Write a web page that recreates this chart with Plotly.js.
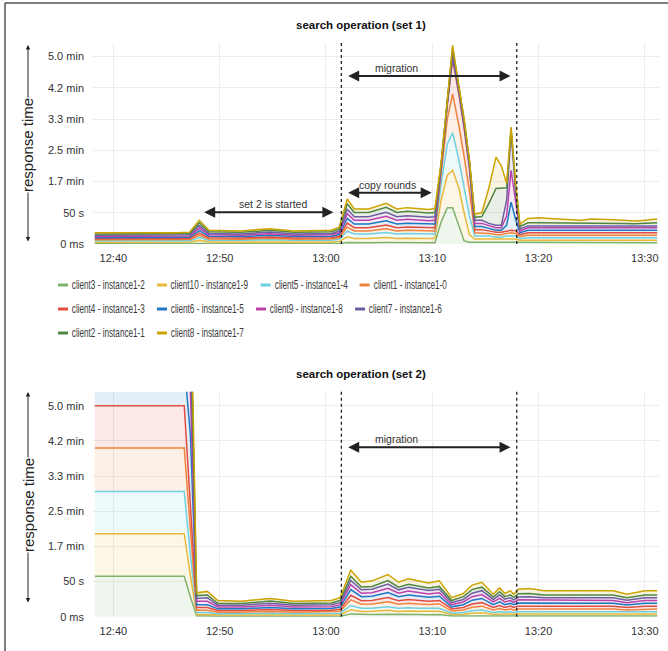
<!DOCTYPE html>
<html><head><meta charset="utf-8">
<script src="https://cdn.plot.ly/plotly-3.0.1.min.js"></script>
<style>html,body{margin:0;padding:0;background:#fff;}#chart{width:668px;height:651px;}</style>
</head><body><div id="chart"></div>
<script>
const DAY = '2021-01-01 ';
const seriesNames = ['client3 - instance1-2','client10 - instance1-9','client5 - instance1-4','client1 - instance1-0',
  'client4 - instance1-3','client6 - instance1-5','client9 - instance1-8','client7 - instance1-6',
  'client2 - instance1-1','client8 - instance1-7'];
const seriesColors = ['#7EB26D','#EAB839','#6ED0E0','#EF843C','#E24D42','#1F78C1','#BA43A9','#705DA0','#508642','#CCA300'];
const xTickLabels = ['12:40','12:50','13:00','13:10','13:20','13:30'];
const yTickValues = [0,50,100,150,200,250,300];
const yTickLabels = ['0 ms','50 s','1.7 min','2.5 min','3.3 min','4.2 min','5.0 min'];
const chartTitles = ['search operation (set 1)','search operation (set 2)'];

// ---- set 1 (seconds) ----
const times1 = ['12:38:15','12:42','12:46','12:47:10','12:48:05','12:49','12:52','12:54:45','12:57','13:00:30','13:01:15','13:02','13:02:40','13:04','13:05:40','13:06:40','13:07:40','13:09:40','13:10:15','13:10:50','13:11:25','13:11:55','13:12:30','13:13','13:13:30','13:14','13:14:40','13:15:20','13:16','13:16:30','13:17','13:17:25','13:17:50','13:18:15','13:19','13:20','13:21','13:22','13:23','13:24','13:25','13:26','13:27','13:28','13:29','13:30','13:31:10'];
const set1Client3  = [0.7,0.7,0.7,0.8,1.5,0.9,0.8,1.0,0.8,0.8,1.0,2.5,2,2,2.3,2,2.1,2,2, 35,58,58,30,5,3,3,3,3,3,3,3,3,3,2, 2,2,2,2,2,2,2,2,2,2,2,2,2];
const set1Client10 = [2.2,2.2,2.2,2.3,4.5,2.6,2.5,2.9,2.5,2.6,3.2,9,7,7,8,7,7.3,6.9,7, 35,52,60,60,45,12,5,5,5,4,4,5,5,5,4, 4,4,4,4,4,4,4,4,4,4,4,4,4];
const set1Client5  = [2.2,2.2,2.3,2.3,4.5,2.7,2.6,3.0,2.6,2.7,3.3,9,7,7,8,7,7.3,6.9,7, 25,50,60,45,40,30,5,5,5,4,4,5,5,5,3, 4,4,4,4,4,4,4,4,4,4,4,4,4];
const set1Client1  = [1.6,1.6,1.6,1.7,3.5,2.0,1.9,2.3,1.9,2.0,2.4,6.5,5,5,6,5,5.2,4.9,5, 17,40,62,55,50,40,5,5,4,4,4,4,5,4,3, 4,4,4,4,4,4,4,4,4,4,4,4,4];
const set1Client4  = [1.6,1.6,1.6,1.7,3.5,2.0,1.9,2.2,1.9,2.0,2.4,6.5,5,5,6,5,5.2,4.9,5, 8,22,55,50,45,35,5,5,4,4,4,4,4,4,3, 4,4,4,4,4,4,4,4,4,4,4,4,4];
const set1Client6  = [1.9,1.9,2.0,2.0,4,2.3,2.2,2.6,2.2,2.3,2.8,7.5,6,6,7,6,6.2,5.9,6, 2,3,5,5,5,5,5,5,4,3,3,9,45,19,3, 4,4,4,4,4,3.5,4,4,4,3.5,3.5,3.5,4];
const set1Client9  = [1.9,1.9,1.9,2.0,4,2.3,2.2,2.6,2.2,2.3,2.8,7.5,6,6,7,6,6.2,5.9,6, 2,1,5,3,3,3,5,5,4,4,4,15,51,25,3, 4,4,4,4,4,3.5,4,4,4,3.5,3.5,3.5,4];
const set1Client7  = [1.8,1.8,1.8,1.9,4,2.2,2.1,2.5,2.1,2.2,2.7,7,5.5,5.5,6.4,5.5,5.7,5.4,5.5, 2,1,4,2,3,2,5,5,4,4,4,25,62,20,3, 3,3,3,3,3,3,3,3,3,3,3,3,3];
const set1Client2  = [2.2,2.2,2.2,2.3,4.5,2.6,2.5,2.9,2.5,2.6,3.2,9,7,7,8,7,7.3,6.9,7, 2,1,5,2,2,2,5,6,32,59,59,20,5,10,4, 5,5,5,5,5,5,5,5,5,5,4.5,5,5];
const set1Client8  = [1.8,1.6,1.9,2.0,4,2.4,2.3,2.6,2.3,2.5,3.2,7.5,5.5,5.5,6.3,5.5,5.7,5.4,6.5, 2,1,4,1,2,2,5,6,25,50,36,7,2,5,4, 7,8,7,6,6,5,6,6,5,5,4.5,5,6];

// ---- set 2 (seconds) ----
const times2 = ['12:38:15','12:42','12:46:40','12:47:15','12:47:50','12:48:50','12:49:50','12:52','12:54:45','12:57','13:00:30','13:01:20','13:02:20','13:03:20','13:04:20','13:05:50','13:06:50','13:07:45','13:08:40','13:09:40','13:10:40','13:11:50','13:12:55','13:13:45','13:14:40','13:15:45','13:16:20','13:16:50','13:17:20','13:17:40','13:18:05','13:19:10','13:20:30','13:22','13:23','13:25','13:27','13:28:20','13:30','13:31:10'];
const set2Client3  = [57.5,57.5,57.5,28,1,1,0.5,0.5,0.6,0.5,0.5,0.6,4,3,3,3.5,3,3.2,3,2.9,3,1,1,1.5,1.5,1,1,1,1,1,1,1,1,1,1,1,1,1,1,1];
const set2Client10 = [60.5,60.5,60.5,30,2,2,1.8,1.8,2.1,1.8,1.9,2.2,6,4.5,4.6,5.5,4.5,4.9,4.6,4.4,4.6,2,2.5,3.5,4,2.5,3,2.5,3,2.5,3,3,3,3,3,3,3,2.5,3,3];
const set2Client5  = [60,60,60,30,3,3,1.8,1.8,2.1,1.8,1.9,2.2,6,4.4,4.5,5.3,4.4,4.8,4.5,4.3,4.5,2,2.5,3.5,4,2.5,3,2.5,3,2.5,3,3,3,3,3,3,3,2.5,3,3];
const set2Client1  = [62,62,62,35,3,3,2.3,2.3,2.7,2.3,2.4,2.8,8,5.9,6,7,5.9,6.3,6,5.7,6,3,3.5,5,5.5,3.5,4.5,3.5,4,3.5,4,4,4,4,4,4,4,3.5,4,4];
const set2Client4  = [60,60,60,35,4,4,2.3,2.3,2.7,2.3,2.4,2.8,6.5,4.9,5,6,4.9,5.4,5,4.7,5,3,3.5,4.5,5,3.5,4.5,3.5,4,3.5,4,4,4,4,4,4,4,3.5,4,4];
const set2Client6  = [60,60,60,100,4,4,2.5,2.5,3,2.5,2.6,3.1,8,5.8,6,7,5.8,6.4,6,5.7,6,3,4,5.5,6,4,5,4,4,4,4.5,4.5,4,4,4,4,4,3.5,4,4];
const set2Client9  = [60,60,60,60,5,5,2.6,2.5,3,2.5,2.6,3.1,7,4.9,5,6,4.9,5.4,5,4.7,5,3,4,5,5.5,4,5,4,4,3.5,4.5,4.5,4,4,4,4,4,3.5,4,4];
const set2Client7  = [60,60,60,60,4,5,2.6,2.5,3,2.5,2.6,3.1,6,4.8,5,6,4.8,5.4,5,4.7,5,3,3.5,5,5.5,3.5,5,4,4,3.5,4,4.5,4,4,4,4,4,3.5,4,4];
const set2Client2  = [60,60,60,60,4,4,2.6,2.6,3,2.6,2.7,3.2,6,3.9,4,5,3.9,4.3,4,3.8,4,3,4,5,5,3.5,4.5,3.5,4,3.5,4.5,4.5,4,4,4,4,4,3.5,4,4];
const set2Client8  = [60,60,60,60,4,5,4,3.2,3.8,3.2,3.4,3.9,8.5,6.9,7.9,8.7,6.9,7.9,7.9,7.1,7.9,4,4.5,6.5,7,4,5.5,4.5,6,4.5,6.5,7,6,6,5,6,6,5,6,6];

const set1Values = [set1Client3,set1Client10,set1Client5,set1Client1,set1Client4,set1Client6,set1Client9,set1Client7,set1Client2,set1Client8];
const set2Values = [set2Client3,set2Client10,set2Client5,set2Client1,set2Client4,set2Client6,set2Client9,set2Client7,set2Client2,set2Client8];

// ---------- layout helpers ----------
const W = 668, H = 651;
const px = v => v / W;
const py = v => 1 - v / H;
const d = t => DAY + t;
function rgba(hex, a) {
  const n = parseInt(hex.slice(1), 16);
  return 'rgba(' + (n >> 16) + ',' + ((n >> 8) & 255) + ',' + (n & 255) + ',' + a + ')';
}
const FONT = '"Liberation Sans", Arial, sans-serif';
const TXT = '#333';

const traces = [];
seriesNames.forEach((name, i) => {
  traces.push({type:'scatter', mode:'lines', name, x: times1.map(d), y: set1Values[i], stackgroup:'set1',
    xaxis:'x', yaxis:'y', line:{color:seriesColors[i], width:1.5}, fillcolor: rgba(seriesColors[i], 0.12),
    showlegend:false, hoverinfo:'skip'});
  traces.push({type:'scatter', mode:'lines', name, x: times2.map(d), y: set2Values[i], stackgroup:'set2',
    xaxis:'x2', yaxis:'y2', line:{color:seriesColors[i], width:1.5}, fillcolor: rgba(seriesColors[i], 0.12),
    showlegend:false, hoverinfo:'skip'});
});

const xBase = {type:'date', domain:[px(93), px(659)], range:[d('12:38:05'), d('13:31:20')],
  tickvals: xTickLabels.map(d), ticktext: xTickLabels, showgrid:true, gridcolor:'#ececec', gridwidth:1,
  zeroline:false, showline:false, ticks:'', ticklabelstandoff:6, tickfont:{family:FONT, size:11, color:TXT}, fixedrange:true};
const yBase = {tickvals: yTickValues, ticktext: yTickLabels, showgrid:true, gridcolor:'#ececec', gridwidth:1,
  zeroline:false, showline:false, ticks:'', ticklabelstandoff:8, tickfont:{family:FONT, size:11, color:TXT}, fixedrange:true};

const shapes = [];
const annotations = [];

// frame
shapes.push({type:'line', xref:'paper', yref:'paper', x0:px(5), x1:px(5), y0:0, y1:py(3), line:{color:'#555', width:1.5}});
shapes.push({type:'line', xref:'paper', yref:'paper', x0:px(5), x1:1, y0:py(3), y1:py(3), line:{color:'#555', width:1.5}});

// chart titles
[[25.5, 0], [373.5, 1]].forEach(([yy, k]) => annotations.push({text:'<b>' + chartTitles[k] + '</b>', xref:'paper', yref:'paper',
  x:px(360.5), y:py(yy), xanchor:'center', yanchor:'middle', showarrow:false, font:{family:FONT, size:11.5, color:'#111'}}));

// y-axis "response time" arrows
[[45, 243, 145], [392, 604, 505]].forEach(([top, bot, mid]) => {
  annotations.push({text:'', xref:'paper', yref:'paper', x:px(28), y:py(top), ax:0, ay:bot - top, showarrow:true,
    arrowside:'end+start', arrowhead:2, arrowsize:0.9, arrowwidth:1, arrowcolor:'#222'});
  annotations.push({text:'response time', textangle:-90, xref:'paper', yref:'paper', x:px(28), y:py(mid),
    xanchor:'center', yanchor:'middle', showarrow:false, bgcolor:'#fff', borderpad:0,
    font:{family:FONT, size:15, color:'#222'}});
});

// migration boundaries (dotted)
['13:01:27', '13:17:57'].forEach(t => {
  shapes.push({type:'line', xref:'x', yref:'y domain', x0:d(t), x1:d(t), y0:0, y1:1, line:{color:'#222', width:1.3, dash:'dot'}});
  shapes.push({type:'line', xref:'x2', yref:'y2 domain', x0:d(t), x1:d(t), y0:0, y1:1, line:{color:'#222', width:1.3, dash:'dot'}});
});

// double-headed arrows with labels
function span(xr, yr, t0, t1, yv, label, tx, ty) {
  annotations.push({text:'', xref:xr, yref:yr, axref:xr, ayref:yr, x:d(t1), y:yv, ax:d(t0), ay:yv, showarrow:true,
    arrowside:'end+start', arrowhead:2, arrowsize:1.1, arrowwidth:2, arrowcolor:'#222'});
  annotations.push({text:label, xref:xr, yref:yr, x:d(tx), y:ty, showarrow:false, xanchor:'center', yanchor:'middle',
    font:{family:FONT, size:10.5, color:'#333'}});
}
span('x', 'y', '13:01:57', '13:17:22', 268.8, 'migration', '13:06:39', 281);
span('x', 'y', '13:01:57', '13:09:57', 82, 'copy rounds', '13:05:46', 94.4);
span('x', 'y', '12:48:24', '13:00:42', 50.7, 'set 2 is started', '12:55:00', 64);
span('x2', 'y2', '13:01:57', '13:17:22', 240.9, 'migration', '13:06:39', 252.3);

// legend (flow layout, 4 per row, condensed text like the original)
const ctx = document.createElement('canvas').getContext('2d');
const LSIZE = 12, SQUEEZE = 0.68;
ctx.font = LSIZE + 'px ' + FONT;
const rowY = [285, 309, 333];
const legendFit = [];
let lx = 58, row = 0, inRow = 0;
seriesNames.forEach((name, i) => {
  if (inRow === 4) { row++; inRow = 0; lx = 58; }
  const cw = ctx.measureText(name).width * SQUEEZE;
  shapes.push({type:'line', xref:'paper', yref:'paper', x0:px(lx), x1:px(lx + 10), y0:py(rowY[row]), y1:py(rowY[row]),
    line:{color:seriesColors[i], width:3}});
  legendFit.push({index: annotations.length, width: cw});
  annotations.push({text:name, xref:'paper', yref:'paper', x:px(lx + 14 + cw / 2), y:py(rowY[row]), xanchor:'center', yanchor:'middle',
    width: Math.ceil(cw) + 1, showarrow:false, borderpad:0, font:{family:FONT, size:LSIZE, color:'#3a3a3a'}});
  lx += 14 + cw + 12; inRow++;
});

const layout = {
  width: W, height: H, margin:{l:0, r:0, t:0, b:0}, paper_bgcolor:'#fff', plot_bgcolor:'#fff',
  showlegend:false, font:{family:FONT, size:11, color:TXT},
  xaxis: Object.assign({}, xBase, {anchor:'y'}),
  yaxis: Object.assign({}, yBase, {anchor:'x', domain:[py(244), py(43)], range:[0, 321.6]}),
  xaxis2: Object.assign({}, xBase, {anchor:'y2'}),
  yaxis2: Object.assign({}, yBase, {anchor:'x2', domain:[py(616.7), py(391.7)], range:[0, 320]}),
  shapes, annotations
};
Plotly.newPlot('chart', traces, layout, {staticPlot:true, displayModeBar:false}).then(gd => {
  legendFit.forEach(({index, width}) => {
    const t = gd.querySelector('.annotation[data-index="' + index + '"] text.annotation-text');
    if (t) { t.setAttribute('textLength', width.toFixed(1)); t.setAttribute('lengthAdjust', 'spacingAndGlyphs'); }
  });
});
</script></body></html>
